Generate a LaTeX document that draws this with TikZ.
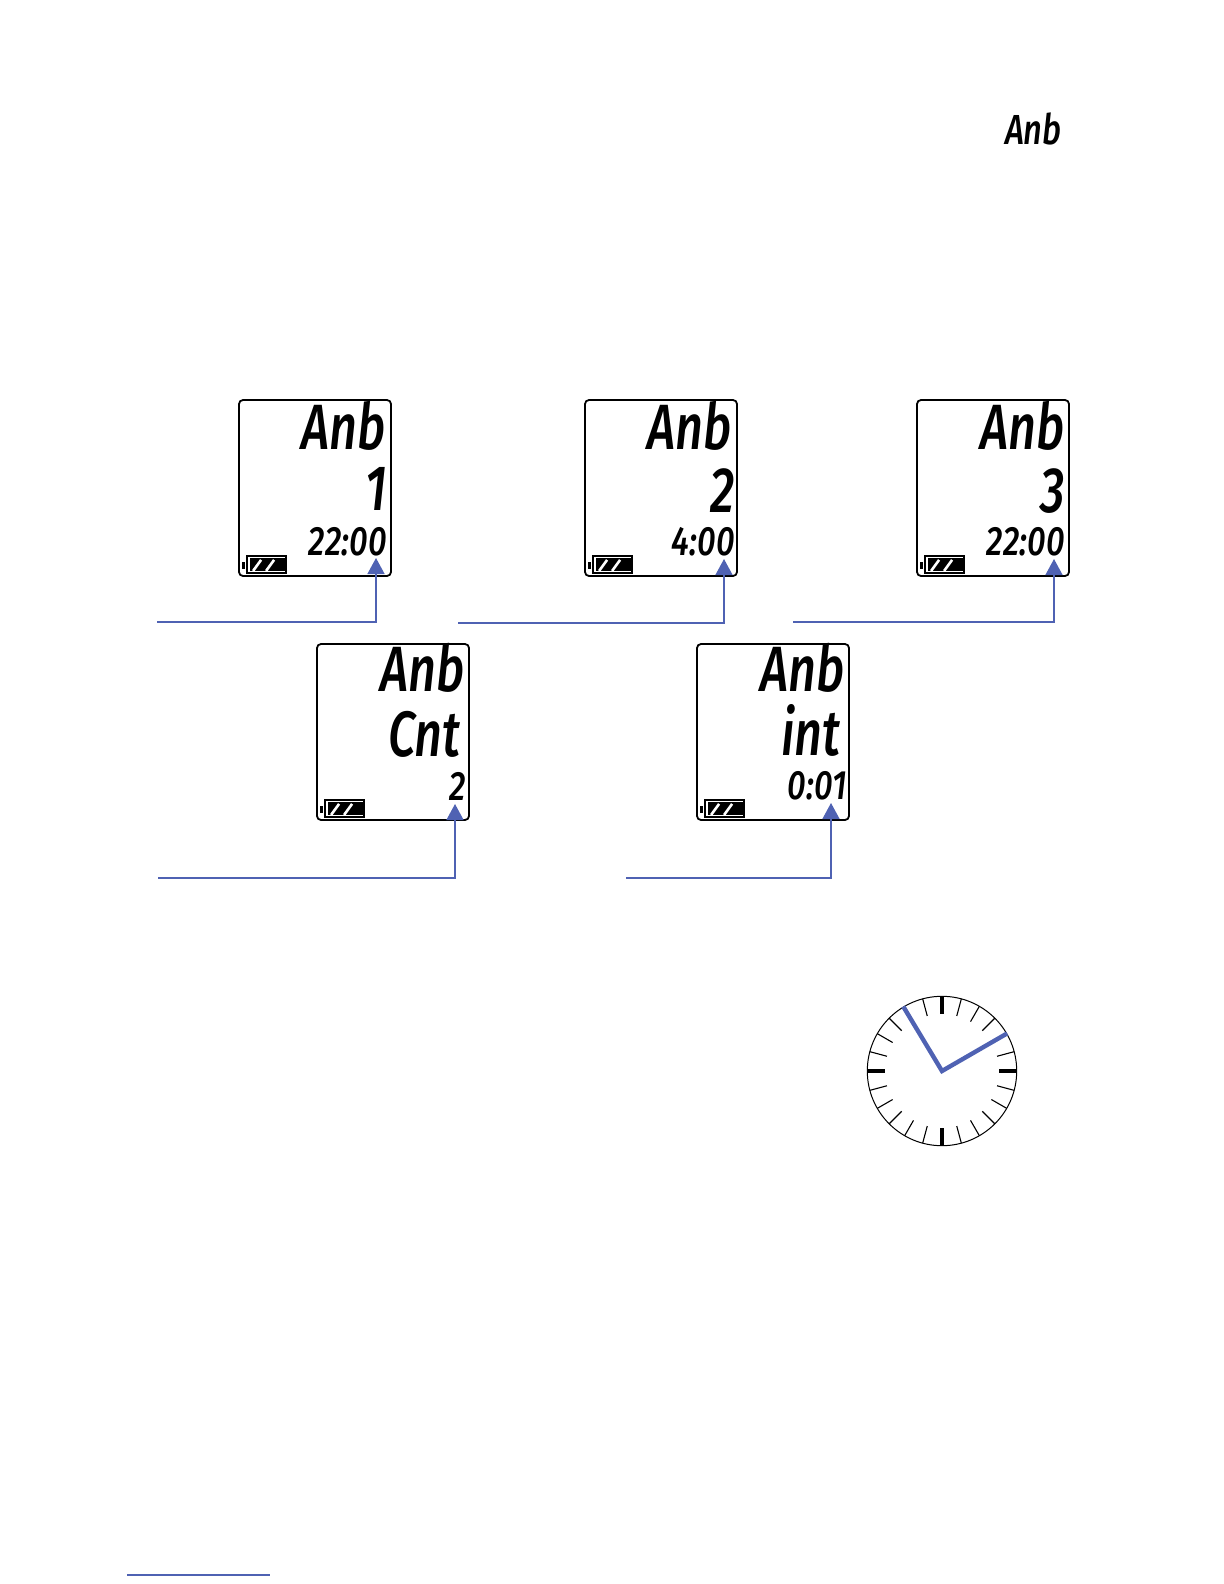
\documentclass[tikz,border=0pt]{standalone}
\usepackage{xcolor}
\usepackage{fontspec}
\setmainfont{Fira Sans Medium}[ItalicFont={Fira Sans Medium Italic}]
\usetikzlibrary{
    arrows.meta,
    positioning
}
\definecolor{calloutblue}{HTML}{4F62B3}

\begin{document}
\begin{tikzpicture}[
    x=0.5bp,
    y=-0.5bp,
    screen/.style={
        draw,
        line width=0.9bp,
        rounded corners=2bp,
        minimum width=76bp,
        minimum height=88bp,
        inner sep=0pt
    },
    lcdbig/.style={
        anchor=base east,
        inner sep=0pt,
        transform shape,
        xscale=0.76,
        font=\itshape\fontsize{32bp}{32bp}\selectfont
    },
    lcdsmall/.style={
        anchor=base east,
        inner sep=0pt,
        transform shape,
        xscale=0.8,
        font=\itshape\fontsize{20.5bp}{20.5bp}\selectfont
    },
    lcdtop/.style={
        anchor=base east,
        inner sep=0pt,
        transform shape,
        xscale=0.78,
        font=\itshape\fontsize{21bp}{21bp}\selectfont
    },
    battery/.style={
        draw,
        line width=0.8bp,
        anchor=south west,
        minimum width=19.5bp,
        minimum height=8.5bp,
        inner sep=0pt
    },
    callout/.style={
        -{Triangle[length=8bp,width=8.5bp]},
        calloutblue,
        line width=0.7bp
    },
    clockface/.style={
        circle,
        draw,
        line width=0.5bp,
        minimum size=74.7bp,
        inner sep=0pt
    },
    hand/.style={
        calloutblue,
        line width=2.2bp,
        line join=miter
    }
]

\useasboundingbox (0,0) rectangle (1224,1584);

\node[lcdtop] (anbtop) at (1062,144) {Anb};

% first row
\node[screen] (scrA) at (315,488) {};
\node[screen] (scrB) at (661,488) {};
\node[screen] (scrC) at (993,488) {};

\node[lcdbig] (anbA) at ([shift={(-6,50)}]scrA.north east) {Anb};
\node[lcdbig] (numA) at ([shift={(-5,111)}]scrA.north east) {1};
\node[lcdsmall] (timeA) at ([shift={(-5,156)}]scrA.north east) {22:00};

\node[lcdbig] (anbB) at ([shift={(-6,50)}]scrB.north east) {Anb};
\node[lcdbig] (numB) at ([shift={(-3,113)}]scrB.north east) {2};
\node[lcdsmall] (timeB) at ([shift={(-3,156)}]scrB.north east) {4:00};

\node[lcdbig] (anbC) at ([shift={(-5,50)}]scrC.north east) {Anb};
\node[lcdbig] (numC) at ([shift={(-5,113)}]scrC.north east) {3};
\node[lcdsmall] (timeC) at ([shift={(-5,156)}]scrC.north east) {22:00};

% second row
\node[screen] (scrD) at (393,732) {};
\node[screen] (scrE) at (773,732) {};

\node[lcdbig] (anbD) at ([shift={(-5,48)}]scrD.north east) {Anb};
\node[lcdbig] (cntD) at ([shift={(-9,113)}]scrD.north east) {Cnt};
\node[lcdsmall] (numD) at ([shift={(-4,157)}]scrD.north east) {2};

\node[lcdbig] (anbE) at ([shift={(-5,48)}]scrE.north east) {Anb};
\node[lcdbig] (intE) at ([shift={(-9,112)}]scrE.north east) {int};
\node[lcdsmall] (timeE) at ([shift={(-3,156)}]scrE.north east) {0:01};

% battery marks
\foreach \d in {scrA,scrB,scrC,scrD,scrE} {
    \node[battery] (\d batt) at ([shift={(8,-3)}]\d.south west) {};
    \fill ([shift={(4,-3)}]\d batt.south west) rectangle ([shift={(0,3)}]\d batt.north east);
    \draw[white, line width=1.3bp] ([shift={(7,-3)}]\d batt.south west) -- ++(8,-11);
    \draw[white, line width=1.3bp] ([shift={(20,-3)}]\d batt.south west) -- ++(8,-11);
    \draw[line width=1.4bp] ([shift={(-3,-5)}]\d batt.south west) -- ++(0,-7);
}

% callouts
\coordinate (startA) at (157,622);
\coordinate (tipA) at (376,558);
\coordinate (startB) at (458,623);
\coordinate (tipB) at (724,559);
\coordinate (startC) at (793,622);
\coordinate (tipC) at (1054,559);
\coordinate (startD) at (158,878);
\coordinate (tipD) at (455,804);
\coordinate (startE) at (626,878);
\coordinate (tipE) at (831,803);

\draw[callout] (startA) -| (tipA);
\draw[callout] (startB) -| (tipB);
\draw[callout] (startC) -| (tipC);
\draw[callout] (startD) -| (tipD);
\draw[callout] (startE) -| (tipE);

% clock
\node[clockface] (clock) at (942,1071) {};

\foreach \a in {0,15,...,345} {
    \draw[line width=0.55bp, shift={(clock.center)}] (\a:74.7) -- (\a:57);
}
\foreach \a in {0,90,180,270} {
    \draw[line width=2.1bp, shift={(clock.center)}] (\a:74.7) -- (\a:57);
}

\draw[hand] (clock.121) -- (clock.center) -- (clock.30);

% rule at the page foot
\coordinate (ruleL) at (127,1575);
\coordinate (ruleR) at (270,1575);
\draw[calloutblue, line width=0.6bp] (ruleL) -- (ruleR);

\end{tikzpicture}
\end{document}
